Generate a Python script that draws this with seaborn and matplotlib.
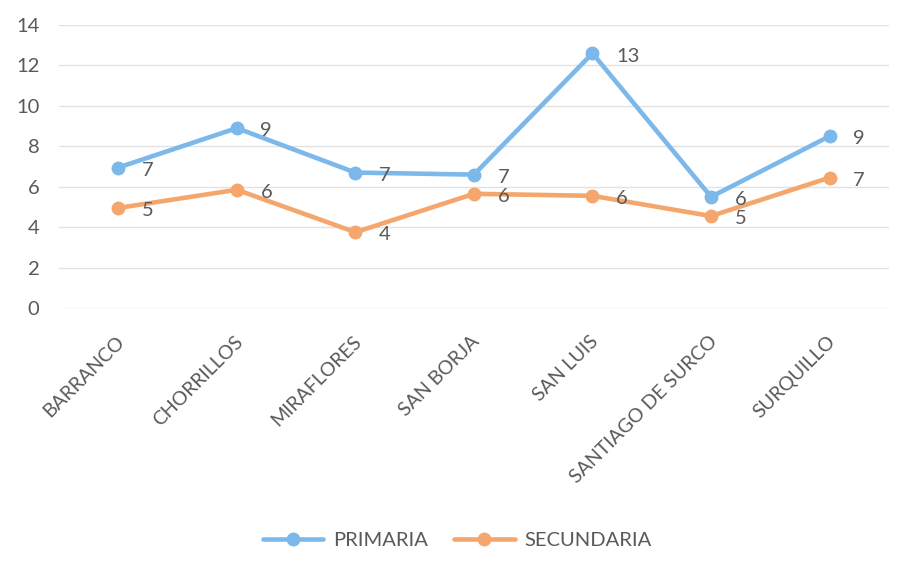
import matplotlib
matplotlib.use("Agg")
import matplotlib.pyplot as plt
import matplotlib.transforms as mtransforms
import seaborn as sns
import pandas as pd

categories = ["BARRANCO", "CHORRILLOS", "MIRAFLORES", "SAN BORJA", "SAN LUIS",
              "SANTIAGO DE SURCO", "SURQUILLO"]
primaria = [6.95, 8.9, 6.7, 6.6, 12.6, 5.5, 8.5]
secundaria = [4.95, 5.85, 3.75, 5.65, 5.55, 4.55, 6.45]
primaria_labels = ["7", "9", "7", "7", "13", "6", "9"]
secundaria_labels = ["5", "6", "4", "6", "6", "5", "7"]
series_names = ["PRIMARIA", "SECUNDARIA"]
colors = ["#7cb8ea", "#f5a66c"]
yticks = [0, 2, 4, 6, 8, 10, 12, 14]

sns.set_theme(style="white")
plt.rcParams['font.family'] = ['Lato', 'DejaVu Sans']

df = pd.DataFrame({
    "distrito": categories * 2,
    "valor": primaria + secundaria,
    "nivel": [series_names[0]] * len(categories) + [series_names[1]] * len(categories),
})

fig = plt.figure(figsize=(9.13, 5.79), dpi=100)
ax = fig.add_axes([0.0646, 0.468, 0.909, 0.4888])

sns.lineplot(data=df, x="distrito", y="valor", hue="nivel", palette=colors,
             marker="o", markersize=10, markeredgewidth=0, linewidth=3.3,
             sort=False, ax=ax, legend=True)

for vals, labs in [(primaria, primaria_labels), (secundaria, secundaria_labels)]:
    for i, (v, t) in enumerate(zip(vals, labs)):
        ax.annotate(t, (i, v), xytext=(17, -2), textcoords="offset points",
                    ha="left", va="center", fontsize=14.5, color="#595959")

ax.set_xlim(-0.5, len(categories) - 0.5)
ax.set_ylim(0, 14)
ax.set_yticks(yticks)
ax.set_yticklabels([str(t) for t in yticks], fontsize=14.5, color="#595959")
ax.set_xticks(range(len(categories)))
ax.set_xticklabels(categories, rotation=45, ha="right", rotation_mode="anchor",
                   fontsize=14, color="#595959")
ax.tick_params(axis="y", length=0, pad=14)
ax.tick_params(axis="x", length=0, pad=18)
shift = mtransforms.ScaledTranslation(-3 / 100, 0, fig.dpi_scale_trans)
for lab in ax.get_xticklabels():
    lab.set_transform(lab.get_transform() + shift)
ax.yaxis.grid(True, color="#e2e2e2", linewidth=1)
ax.set_axisbelow(True)
for s in ax.spines.values():
    s.set_visible(False)
ax.set_xlabel("")
ax.set_ylabel("")

h, l = ax.get_legend_handles_labels()
ax.legend(h, l, loc="center", bbox_to_anchor=(0.48, -0.82), ncol=2, frameon=False,
          fontsize=14.5, labelcolor="#595959", handlelength=3.0, columnspacing=1.3,
          handletextpad=0.5)

fig.savefig("out.png", dpi=100, facecolor="white")
